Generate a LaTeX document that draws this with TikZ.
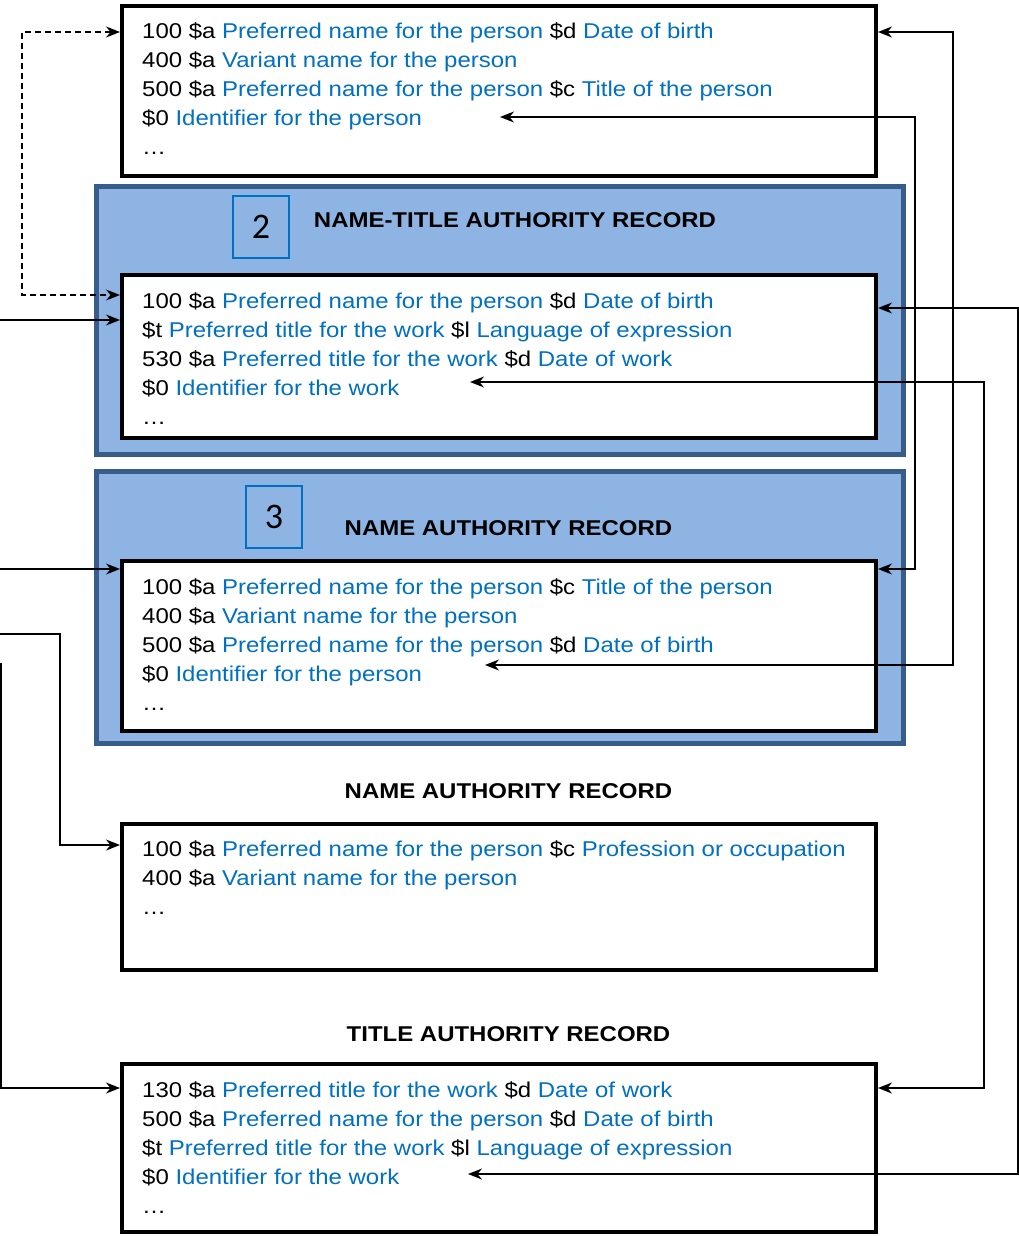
\documentclass[tikz,border=0pt]{standalone}
\usepackage{fontspec}
\setmainfont{Liberation Sans}[FakeStretch=1.12]
\newfontfamily\numfont{Carlito}
\usetikzlibrary{arrows.meta}
\definecolor{fieldblue}{HTML}{0070C0}
\definecolor{panelfill}{HTML}{8EB4E3}
\definecolor{paneledge}{HTML}{385D8A}
\newcommand{\fv}[1]{\textcolor{fieldblue}{#1}}

\tikzset{
  recbox/.style={draw, line width=4pt, fill=white, minimum width=754pt},
  panel/.style={draw=paneledge, line width=5pt, fill=panelfill, minimum width=807pt},
  numbox/.style={draw=fieldblue, line width=2pt, minimum width=56pt, minimum height=62pt, inner sep=0pt, font=\numfont\fontsize{36pt}{40pt}\selectfont},
  fld/.style={anchor=base west, inner sep=0pt, font=\fontsize{21.4pt}{25pt}\selectfont},
  hd/.style={anchor=base, inner sep=0pt, font=\bfseries\fontsize{21.4pt}{25pt}\selectfont},
  link/.style={line width=1.6pt},
  >={Stealth[length=14pt,width=11pt]}
}

\begin{document}
\begin{tikzpicture}[x=1pt,y=-1pt]
    \useasboundingbox (0,0) rectangle (1019,1236);
    % panels behind the records
    \node[panel, minimum height=268pt] (pan2) at (500,320.5) {};
    \node[panel, minimum height=272pt] (pan3) at (500,607.5) {};
    \node[numbox] (num2) at (261,227) {2};
    \node[numbox] (num3) at (274,517) {3};
    \node[hd] (hdnt) at (515,227) {NAME-TITLE AUTHORITY RECORD};
    \node[hd] (hdna) at (508.5,535) {NAME AUTHORITY RECORD};
    \node[hd] (hdnm) at (508.5,798) {NAME AUTHORITY RECORD};
    \node[hd] (hdti) at (508.5,1041) {TITLE AUTHORITY RECORD};

    % record boxes
    \node[recbox, minimum height=170pt] (pers) at (499,91) {};
    \node[recbox, minimum height=163pt] (ntrec) at (499,356.5) {};
    \node[recbox, minimum height=170pt] (narec) at (499,646) {};
    \node[recbox, minimum height=146pt] (nmrec) at (499,897) {};
    \node[recbox, minimum height=168pt] (tirec) at (499,1148) {};

    % person record
    \node[fld] (pers1) at (142,38.5) {100 \$a \fv{Preferred name for the person} \$d \fv{Date of birth}};
    \node[fld] (pers2) at (142,67.5) {400 \$a \fv{Variant name for the person}};
    \node[fld] (pers3) at (142,96.5) {500 \$a \fv{Preferred name for the person} \$c \fv{Title of the person}};
    \node[fld] (pers4) at (142,125.5) {\$0 \fv{Identifier for the person}};
    \node[fld] (pers5) at (142,154.5) {…};

    % name-title record
    \node[fld] (nt1) at (142,308.5) {100 \$a \fv{Preferred name for the person} \$d \fv{Date of birth}};
    \node[fld] (nt2) at (142,337.5) {\$t \fv{Preferred title for the work} \$l \fv{Language of expression}};
    \node[fld] (nt3) at (142,366.5) {530 \$a \fv{Preferred title for the work} \$d \fv{Date of work}};
    \node[fld] (nt4) at (142,395.5) {\$0 \fv{Identifier for the work}};
    \node[fld] (nt5) at (142,424.5) {…};

    % name record 3
    \node[fld] (na1) at (142,594.5) {100 \$a \fv{Preferred name for the person} \$c \fv{Title of the person}};
    \node[fld] (na2) at (142,623.5) {400 \$a \fv{Variant name for the person}};
    \node[fld] (na3) at (142,652.5) {500 \$a \fv{Preferred name for the person} \$d \fv{Date of birth}};
    \node[fld] (na4) at (142,681.5) {\$0 \fv{Identifier for the person}};
    \node[fld] (na5) at (142,710.5) {…};

    % name record
    \node[fld] (nm1) at (142,856.5) {100 \$a \fv{Preferred name for the person} \$c \fv{Profession or occupation}};
    \node[fld] (nm2) at (142,885.5) {400 \$a \fv{Variant name for the person}};
    \node[fld] (nm3) at (142,914.5) {…};

    % title record
    \node[fld] (ti1) at (142,1097.5) {130 \$a \fv{Preferred title for the work} \$d \fv{Date of work}};
    \node[fld] (ti2) at (142,1126.5) {500 \$a \fv{Preferred name for the person} \$d \fv{Date of birth}};
    \node[fld] (ti3) at (142,1155.5) {\$t \fv{Preferred title for the work} \$l \fv{Language of expression}};
    \node[fld] (ti4) at (142,1184.5) {\$0 \fv{Identifier for the work}};
    \node[fld] (ti5) at (142,1213.5) {…};

    % free ends
    \coordinate (persid) at (500,117);
    \coordinate (ntid) at (470,382);
    \coordinate (naid) at (485,665);
    \coordinate (tiid) at (468,1174);
    \coordinate (inF) at (0,320);
    \coordinate (inG) at (0,569);
    \coordinate (inH) at (0,634);
    \coordinate (inI) at (0.8,663);

    % right-hand links
    \draw[link, <->] (persid) -- ++(415,0) |- (narec.east |- 0,569);
    \draw[link, <->] (pers.east |- 0,32) -- ++(75,0) |- (naid);
    \draw[link, <->] (ntid) -- ++(514,0) |- (tirec.east |- 0,1088);
    \draw[link, <->] (ntrec.east |- 0,308) -- ++(140,0) |- (tiid);

    % left-hand links
    \draw[link, <->, dash pattern=on 6pt off 4pt] (pers.west |- 0,32) -- ++(-98,0) |- (ntrec.west |- 0,295);
    \draw[link, ->] (inF) -- (ntrec.west |- inF);
    \draw[link, ->] (inG) -- (narec.west |- inG);
    \draw[link, ->] (inH) -- ++(60,0) |- (nmrec.west |- 0,845);
    \draw[link, ->] (inI) |- (tirec.west |- 0,1088);
\end{tikzpicture}
\end{document}
